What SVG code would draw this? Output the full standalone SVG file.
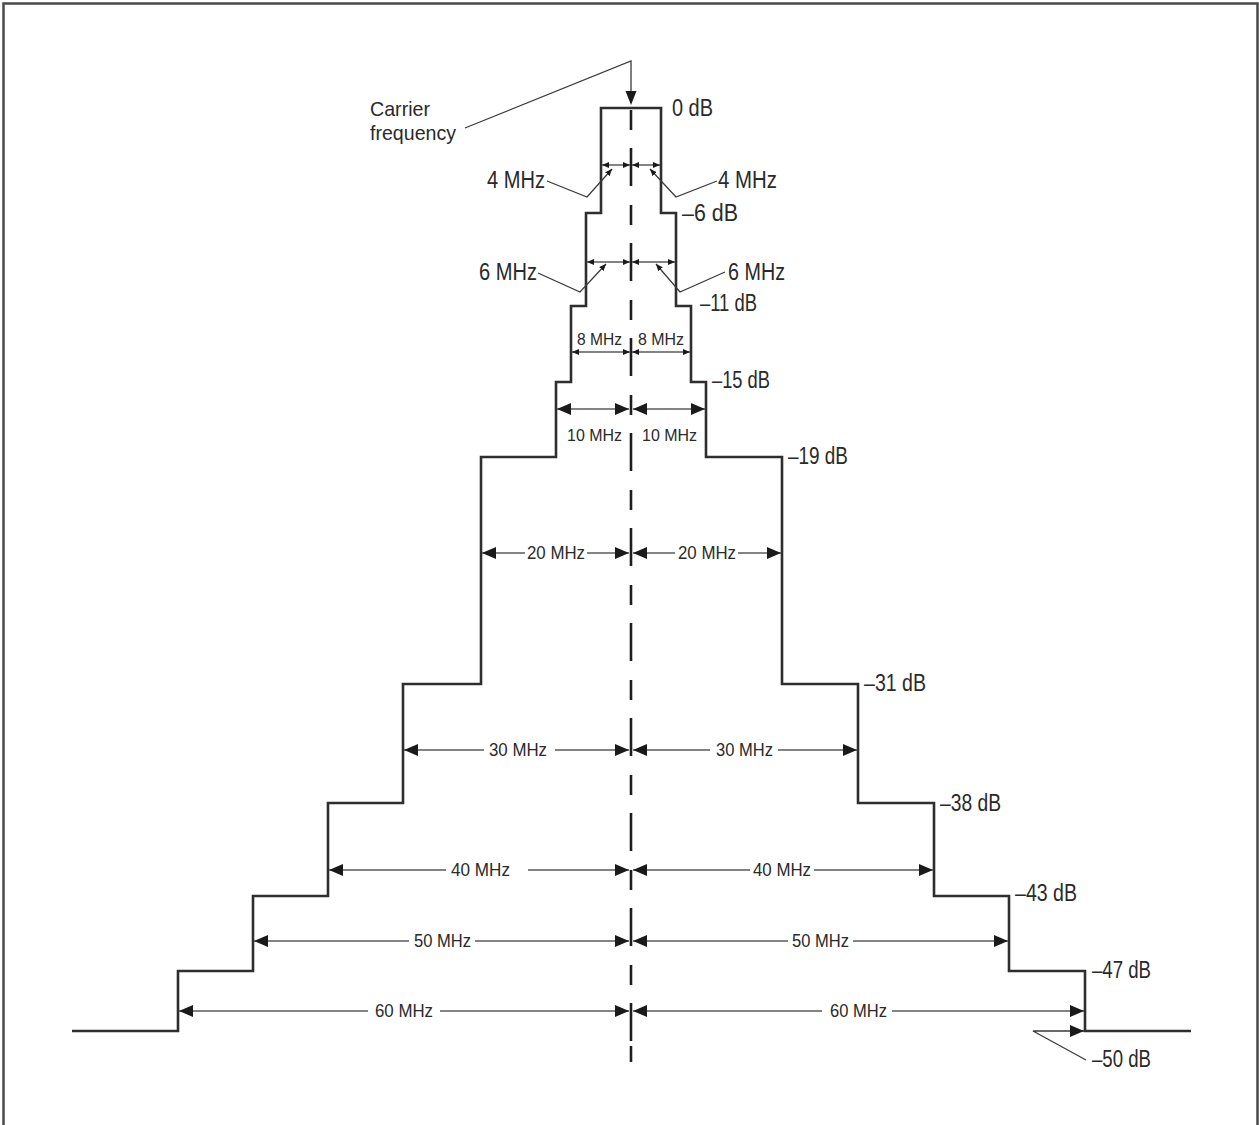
<svg xmlns="http://www.w3.org/2000/svg" width="1259" height="1125" viewBox="0 0 1259 1125">
<style>
.frame{fill:none;stroke:#4a4a4a;stroke-width:2.5}
.stair{fill:none;stroke:#2e2e2e;stroke-width:2.6;stroke-linejoin:miter}
.axis{fill:none;stroke:#1e1e1e;stroke-width:2.6;stroke-dasharray:38 19 20 18;stroke-dashoffset:55}
.axis2{fill:none;stroke:#1e1e1e;stroke-width:2.6}
.dim{fill:none;stroke:#5a5a5a;stroke-width:1.5}
.lead{fill:none;stroke:#3a3a3a;stroke-width:1.3}
.big{marker-end:url(#ah)}
.bigs{marker-start:url(#ah)}
.sm{marker-start:url(#sa);marker-end:url(#sa)}
text{font-family:"Liberation Sans",Arial,sans-serif;fill:#2a2a2a}
.db{font-size:23px}
.mhz{font-size:18px}
.mhzs{font-size:17px}
.lbl{font-size:23px}
.car{font-size:21px}
</style>
<defs>
<marker id="ah" viewBox="0 0 14 12" refX="14" refY="6" markerWidth="14" markerHeight="12" markerUnits="userSpaceOnUse" orient="auto-start-reverse">
<path d="M0,0 L14,6 L0,12 z" fill="#1a1a1a"/>
</marker>
<marker id="sa" viewBox="0 0 7 6" refX="7" refY="3" markerWidth="7" markerHeight="6" markerUnits="userSpaceOnUse" orient="auto-start-reverse">
<path d="M0,0 L7,3 L0,6 z" fill="#1a1a1a"/>
</marker>
</defs>
<rect width="1259" height="1125" fill="#fff"/>
<path class="frame" d="M3.5,1125 V3.5 H1257.5 V1125"/>

<g id="spectrum-mask">
<path class="stair" d="M72,1031 H178 V971 H253 V896 H328 V803 H403 V684 H481 V457 H556 V382 H571 V306 H586 V213 H601 V108 H661 V213 H676 V306 H691 V382 H706 V457 H782 V684 H858 V803 H934 V896 H1009 V971 H1085 V1031 H1191"/>
</g>

<g id="carrier-axis">
<line class="axis" x1="631" y1="108" x2="631" y2="1041"/>
<line class="axis2" x1="631" y1="1046" x2="631" y2="1062"/>
</g>

<g id="connectors">
<path class="lead" d="M465,128 L631,61 V94"/>
<polygon points="625.5,91 636.5,91 631,105" fill="#1a1a1a"/>
<line class="dim sm" x1="602" y1="165" x2="630" y2="165"/>
<line class="dim sm" x1="632" y1="165" x2="660" y2="165"/>
<path class="lead" d="M547,181 L587,197 L612,169" marker-end="url(#sa)"/>
<path class="lead" d="M717,181 L676,197 L650,169" marker-end="url(#sa)"/>
<line class="dim sm" x1="587" y1="262" x2="630" y2="262"/>
<line class="dim sm" x1="632" y1="262" x2="675" y2="262"/>
<path class="lead" d="M538,273 L580,292 L606,264" marker-end="url(#sa)"/>
<path class="lead" d="M725,272 L680,292 L656,264" marker-end="url(#sa)"/>
<line class="dim sm" x1="572" y1="352" x2="630" y2="352"/>
<line class="dim sm" x1="632" y1="352" x2="690" y2="352"/>
<line class="dim bigs big" x1="557" y1="409" x2="629" y2="409"/>
<line class="dim bigs big" x1="633" y1="409" x2="705" y2="409"/>
<line class="dim bigs" x1="482" y1="553" x2="525" y2="553"/>
<line class="dim big" x1="587" y1="553" x2="629" y2="553"/>
<line class="dim bigs" x1="633" y1="553" x2="675" y2="553"/>
<line class="dim big" x1="738" y1="553" x2="781" y2="553"/>
<line class="dim bigs" x1="404" y1="750" x2="484" y2="750"/>
<line class="dim big" x1="555" y1="750" x2="629" y2="750"/>
<line class="dim bigs" x1="633" y1="750" x2="710" y2="750"/>
<line class="dim big" x1="778" y1="750" x2="857" y2="750"/>
<line class="dim bigs" x1="329" y1="870" x2="446" y2="870"/>
<line class="dim big" x1="528" y1="870" x2="629" y2="870"/>
<line class="dim bigs" x1="633" y1="870" x2="750" y2="870"/>
<line class="dim big" x1="814" y1="870" x2="933" y2="870"/>
<line class="dim bigs" x1="254" y1="941" x2="409" y2="941"/>
<line class="dim big" x1="475" y1="941" x2="629" y2="941"/>
<line class="dim bigs" x1="633" y1="941" x2="788" y2="941"/>
<line class="dim big" x1="853" y1="941" x2="1008" y2="941"/>
<line class="dim bigs" x1="179" y1="1011" x2="368" y2="1011"/>
<line class="dim big" x1="440" y1="1011" x2="629" y2="1011"/>
<line class="dim bigs" x1="633" y1="1011" x2="822" y2="1011"/>
<line class="dim big" x1="892" y1="1011" x2="1084" y2="1011"/>
<path class="lead" d="M1086,1060 L1033,1031 H1084" marker-end="url(#ah)"/>
</g>

<g id="labels">
<text class="car" x="370" y="116" textLength="60" lengthAdjust="spacingAndGlyphs">Carrier</text>
<text class="car" x="370" y="140" textLength="86" lengthAdjust="spacingAndGlyphs">frequency</text>
<text class="lbl" x="487" y="188" textLength="58" lengthAdjust="spacingAndGlyphs">4 MHz</text>
<text class="lbl" x="718" y="188" textLength="59" lengthAdjust="spacingAndGlyphs">4 MHz</text>
<text class="lbl" x="479" y="280" textLength="58" lengthAdjust="spacingAndGlyphs">6 MHz</text>
<text class="lbl" x="728" y="280" textLength="57" lengthAdjust="spacingAndGlyphs">6 MHz</text>
<text class="mhzs" x="577" y="345" textLength="45" lengthAdjust="spacingAndGlyphs">8 MHz</text>
<text class="mhzs" x="638" y="345" textLength="46" lengthAdjust="spacingAndGlyphs">8 MHz</text>
<text class="mhzs" x="567" y="441" textLength="55" lengthAdjust="spacingAndGlyphs">10 MHz</text>
<text class="mhzs" x="642" y="441" textLength="55" lengthAdjust="spacingAndGlyphs">10 MHz</text>
<text class="mhz" x="527" y="559" textLength="58" lengthAdjust="spacingAndGlyphs">20 MHz</text>
<text class="mhz" x="678" y="559" textLength="58" lengthAdjust="spacingAndGlyphs">20 MHz</text>
<text class="mhz" x="489" y="756" textLength="58" lengthAdjust="spacingAndGlyphs">30 MHz</text>
<text class="mhz" x="716" y="756" textLength="57" lengthAdjust="spacingAndGlyphs">30 MHz</text>
<text class="mhz" x="451" y="876" textLength="59" lengthAdjust="spacingAndGlyphs">40 MHz</text>
<text class="mhz" x="753" y="876" textLength="58" lengthAdjust="spacingAndGlyphs">40 MHz</text>
<text class="mhz" x="414" y="947" textLength="57" lengthAdjust="spacingAndGlyphs">50 MHz</text>
<text class="mhz" x="792" y="947" textLength="57" lengthAdjust="spacingAndGlyphs">50 MHz</text>
<text class="mhz" x="375" y="1017" textLength="58" lengthAdjust="spacingAndGlyphs">60 MHz</text>
<text class="mhz" x="830" y="1017" textLength="57" lengthAdjust="spacingAndGlyphs">60 MHz</text>
<text class="db" x="672" y="116" textLength="41" lengthAdjust="spacingAndGlyphs">0 dB</text>
<text class="db" x="682" y="221" textLength="56" lengthAdjust="spacingAndGlyphs">–6 dB</text>
<text class="db" x="700" y="311" textLength="57" lengthAdjust="spacingAndGlyphs">–11 dB</text>
<text class="db" x="712" y="388" textLength="58" lengthAdjust="spacingAndGlyphs">–15 dB</text>
<text class="db" x="788" y="464" textLength="60" lengthAdjust="spacingAndGlyphs">–19 dB</text>
<text class="db" x="864" y="691" textLength="62" lengthAdjust="spacingAndGlyphs">–31 dB</text>
<text class="db" x="940" y="811" textLength="61" lengthAdjust="spacingAndGlyphs">–38 dB</text>
<text class="db" x="1015" y="901" textLength="62" lengthAdjust="spacingAndGlyphs">–43 dB</text>
<text class="db" x="1092" y="978" textLength="59" lengthAdjust="spacingAndGlyphs">–47 dB</text>
<text class="db" x="1092" y="1067" textLength="59" lengthAdjust="spacingAndGlyphs">–50 dB</text>
</g>
</svg>
